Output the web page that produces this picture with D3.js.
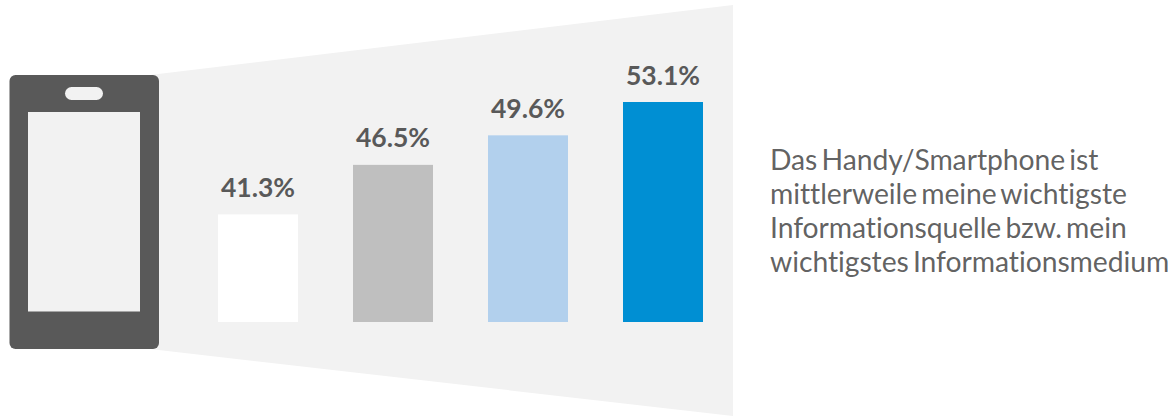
<!DOCTYPE html>
<html lang="de">
<head>
<meta charset="utf-8">
<script src="https://cdn.jsdelivr.net/npm/d3@7/dist/d3.min.js"></script>
<style>
  html, body { margin: 0; padding: 0; background: #fff; }
  svg { display: block; }
  text { font-family: Lato, sans-serif; fill: #595959; font-variant-ligatures: none; }
</style>
</head>
<body>
<svg id="chart" width="1174" height="416"></svg>
<script>
// Zustimmung je Gruppe, in Prozent
const groups = ["A", "B", "C", "D"];
const shares = [41.3, 46.5, 49.6, 53.1];
const barColors = ["#ffffff", "#bfbfbf", "#b2d0ed", "#008fd3"];
const statementLines = [
  "Das Handy/Smartphone ist",
  "mittlerweile meine wichtigste",
  "Informationsquelle bzw. mein",
  "wichtigstes Informationsmedium"
];

const svg = d3.select("#chart");

// Lichtkegel, der vom Telefon ausgeht
svg.append("polygon")
  .attr("points", "150,75 733,5 733,416 150,349")
  .attr("fill", "#f2f2f2");

// Telefon
const phone = svg.append("g");
phone.append("rect")
  .attr("x", 9.5).attr("y", 75).attr("width", 149.5).attr("height", 274)
  .attr("rx", 6).attr("fill", "#595959");
phone.append("rect")
  .attr("x", 28).attr("y", 112).attr("width", 112).attr("height", 199.5)
  .attr("fill", "#f2f2f2");
phone.append("rect")
  .attr("x", 65).attr("y", 87).attr("width", 38).attr("height", 13)
  .attr("rx", 6.5).attr("fill", "#f2f2f2");

// Balken: die Werteachse beginnt bei 30 %
const x = d3.scaleBand()
  .domain(groups)
  .range([218, 703])
  .paddingInner(55 / 135)
  .paddingOuter(0);

const y = d3.scaleLinear()
  .domain([30, 53.1])
  .range([322, 102]);

const data = groups.map((g, i) => ({ group: g, share: shares[i], color: barColors[i] }));

svg.append("g").selectAll("rect")
  .data(data)
  .join("rect")
  .attr("x", d => x(d.group))
  .attr("y", d => y(d.share))
  .attr("width", x.bandwidth())
  .attr("height", d => y.range()[0] - y(d.share))
  .attr("fill", d => d.color);

svg.append("g").selectAll("text")
  .data(data)
  .join("text")
  .attr("x", d => x(d.group) + x.bandwidth() / 2)
  .attr("y", d => y(d.share) - 17.5)
  .attr("text-anchor", "middle")
  .attr("font-size", 26.5)
  .attr("font-weight", 700)
  .text(d => d.share.toFixed(1) + "%");

// Aussage rechts neben dem Diagramm
svg.append("g").selectAll("text")
  .data(statementLines)
  .join("text")
  .attr("x", 770)
  .attr("y", (d, i) => 170 + i * 34)
  .attr("font-size", 28.3)
  .attr("font-weight", 400)
  .attr("word-spacing", "-3")
  .attr("letter-spacing", "-0.05")
  .attr("fill-opacity", 0.95)
  .text(d => d);
</script>
</body>
</html>
